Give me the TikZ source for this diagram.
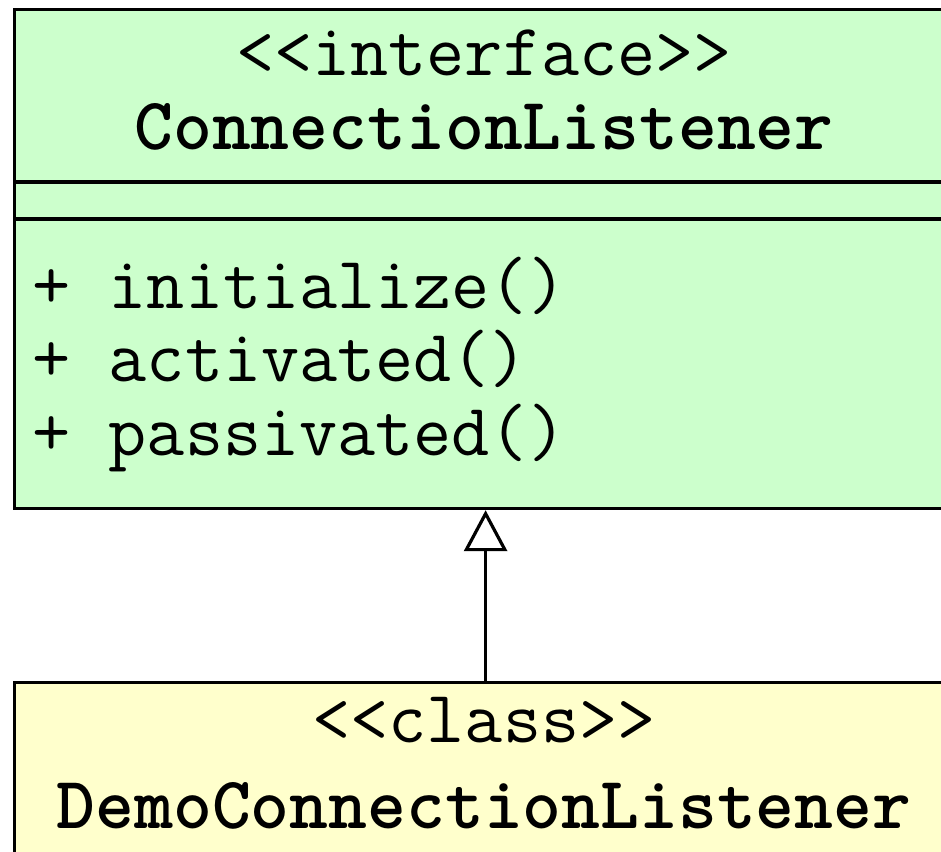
\documentclass[tikz,border=0pt]{standalone}
\usepackage{fontspec}
\usetikzlibrary{arrows.meta, positioning}
\definecolor{verdino}{HTML}{CCFFCC}
\definecolor{giallino}{HTML}{FFFFCC}

\begin{document}
\begin{tikzpicture}[x = 1pt, y = -1pt, line width = 3.2pt,
    testo/.style = {inner sep = 0pt, font = \ttfamily\fontsize{74}{74}\selectfont},
    scatola/.style = {draw, anchor = north west, inner sep = 0pt, minimum width = 942pt}]
    % Parametri (aiuto)
    \pgfmathsetmacro{\xmid}{484}
    \pgfmathsetmacro{\xsx}{31}
    \pgfmathsetmacro{\riga}{73.5}
    \useasboundingbox (0,0) rectangle (941,851);
    \clip (0,0) rectangle (941,851);
    % Interfaccia
    \node[scatola, fill = verdino, minimum height = 499pt] (iface) at (13,8) {};
    \draw (iface.west |- 0,182) -- (iface.east |- 0,182);
    \draw (iface.west |- 0,219) -- (iface.east |- 0,219);
    \node[testo, anchor = base] (istereo) at (\xmid,75) {<<interface>>};
    \node[testo, anchor = base] (inome) at (\xmid,149) {\bfseries ConnectionListener};
    % metodi
    \foreach \m [count = \i from 0] in {initialize(), activated(), passivated()} {
        \node[testo, anchor = base west] (metodo\i) at (\xsx,{308+\i*\riga}) {+ \m};
    }
    % Classe
    \node[scatola, fill = giallino, minimum height = 250pt] (demo) at (13,681) {};
    \node[testo, anchor = base] (dstereo) at (\xmid,742) {<<class>>};
    \node[testo, anchor = base] (dnome) at (\xmid,828) {\bfseries DemoConnectionListener};
    % generalizzazione
    \draw[-{Triangle[open, length = 41pt, width = 43pt]}] (demo.north) -- (iface.south);
\end{tikzpicture}
\end{document}
